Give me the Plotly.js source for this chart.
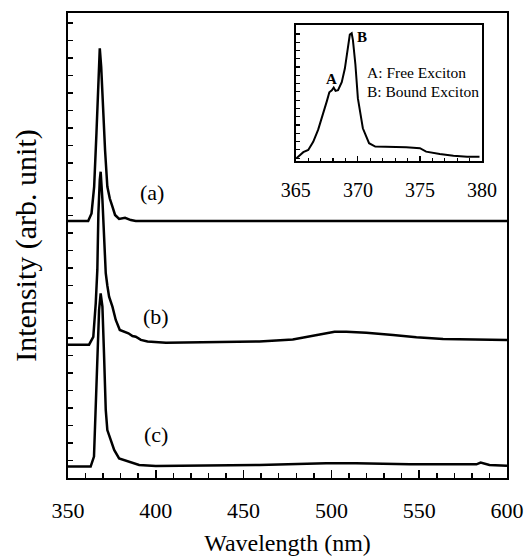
<!DOCTYPE html>
<html>
<head>
<meta charset="utf-8">
<script src="https://cdn.plot.ly/plotly-3.0.1.min.js"></script>
<style>html,body{margin:0;padding:0;background:#fff;}#chart{width:527px;height:558px;}</style>
</head>
<body>
<div id="chart"></div>
<script>
// Spectrum (a)
const xA = [350, 356, 361.5, 363.4, 364.9, 366.2, 367.2, 368.1, 368.9, 370.0, 371.1, 372.4, 373.8, 375.3, 376.8, 379.1, 382.5, 385.8, 388.6, 420, 480, 540, 600];
const yA = [14.69, 14.69, 14.69, 15.12, 16.65, 19.70, 22.55, 24.55, 23.50, 21.03, 18.74, 16.65, 15.97, 15.50, 15.03, 14.80, 14.87, 14.74, 14.69, 14.69, 14.69, 14.70, 14.69];
// Spectrum (b)
const xB = [350, 356, 362.0, 364.4, 365.8, 366.7, 367.3, 368.1, 368.6, 369.6, 370.5, 371.5, 372.4, 373.4, 375.3, 377.2, 379.5, 382.0, 384.4, 386.7, 388.6, 391.5, 395.3, 405.8, 424.8, 447.6, 459, 478, 497.1, 501.8, 508.5, 519.9, 535.1, 548.4, 563.6, 582.6, 600];
const yB = [7.62, 7.62, 7.62, 8.07, 9.98, 11.89, 15.10, 17.03, 17.50, 15.90, 13.60, 11.70, 11.00, 10.36, 9.79, 9.03, 8.46, 8.36, 8.27, 8.11, 8.07, 7.89, 7.80, 7.73, 7.74, 7.77, 7.80, 7.92, 8.27, 8.36, 8.36, 8.30, 8.17, 8.04, 7.94, 7.92, 7.89];
// Spectrum (c)
const xC = [350, 356, 362.9, 364.8, 365.8, 366.7, 367.7, 368.6, 369.6, 370.5, 371.5, 372.4, 374.4, 376.3, 379.1, 382.0, 385.8, 390.5, 400, 443.6, 459, 497, 514, 544.7, 582.6, 585, 590, 600];
const yC = [0.65, 0.65, 0.65, 1.22, 4.27, 7.50, 9.60, 10.55, 9.79, 7.12, 3.89, 2.74, 2.17, 1.60, 1.12, 1.03, 0.88, 0.74, 0.69, 0.74, 0.74, 0.84, 0.84, 0.78, 0.78, 0.88, 0.74, 0.70];
// Inset: zoom of the band edge emission
const xIn = [365.05, 365.6, 366.0, 366.4, 366.8, 367.2, 367.5, 367.7, 367.9, 368.05, 368.2, 368.4, 368.7, 368.95, 369.2, 369.35, 369.5, 369.6, 369.8, 370.0, 370.4, 370.6, 370.9, 371.4, 372.5, 373.9, 375.0, 375.5, 376.6, 377.7, 378.8, 379.8];
const yIn = [0.02, 0.064, 0.08, 0.14, 0.23, 0.34, 0.44, 0.505, 0.52, 0.54, 0.515, 0.52, 0.58, 0.68, 0.83, 0.93, 0.94, 0.89, 0.71, 0.46, 0.24, 0.19, 0.13, 0.105, 0.105, 0.10, 0.093, 0.068, 0.05, 0.037, 0.03, 0.03];

const seriesLabels = ['(a)', '(b)', '(c)'];
const seriesLabelPos = [[398, 16.29], [400, 9.2], [400, 2.46]];
const insetMarks = [['A', 367.9, 0.60], ['B', 370.3, 0.91]];
const insetLegend = [['A: Free Exciton', 370.6, 0.654], ['B: Bound Exciton', 370.6, 0.51]];

const serif = 'Liberation Serif';
const line = {color: '#000', width: 2.5};

const traces = [
  {x: xA, y: yA, mode: 'lines', line: line, xaxis: 'x', yaxis: 'y', showlegend: false, hoverinfo: 'skip'},
  {x: xB, y: yB, mode: 'lines', line: line, xaxis: 'x', yaxis: 'y', showlegend: false, hoverinfo: 'skip'},
  {x: xC, y: yC, mode: 'lines', line: line, xaxis: 'x', yaxis: 'y', showlegend: false, hoverinfo: 'skip'},
  {x: xIn, y: yIn, mode: 'lines', line: {color: '#000', width: 2}, xaxis: 'x2', yaxis: 'y2', showlegend: false, hoverinfo: 'skip'}
];

const annotations = [];
seriesLabels.forEach((t, i) => annotations.push({
  text: t, x: seriesLabelPos[i][0], y: seriesLabelPos[i][1], xref: 'x', yref: 'y',
  showarrow: false, font: {family: serif, size: 22, color: '#000'}
}));
insetMarks.forEach(m => annotations.push({
  text: '<b>' + m[0] + '</b>', x: m[1], y: m[2], xref: 'x2', yref: 'y2',
  showarrow: false, font: {family: serif, size: 15, color: '#000'}
}));
insetLegend.forEach(m => annotations.push({
  text: m[0], x: m[1], y: m[2], xref: 'x2', yref: 'y2', xanchor: 'left',
  showarrow: false, font: {family: serif, size: 15.5, color: '#000'}
}));

const layout = {
  width: 527, height: 558,
  margin: {l: 68, r: 20, t: 13, b: 80},
  paper_bgcolor: '#fff', plot_bgcolor: '#fff',
  showlegend: false,
  font: {family: serif, color: '#000'},
  xaxis: {
    domain: [0, 1], range: [350, 600], tick0: 350, dtick: 50,
    ticks: 'inside', ticklen: 8, tickwidth: 1.5, tickcolor: '#000',
    minor: {dtick: 10, ticks: 'inside', ticklen: 5, tickwidth: 1.5, tickcolor: '#000', showgrid: false},
    showline: true, linewidth: 2, linecolor: '#000', mirror: true,
    showgrid: false, zeroline: false,
    tickfont: {family: serif, size: 22, color: '#000'},
    ticklabelstandoff: 12,
    title: {text: 'Wavelength (nm)', font: {family: serif, size: 24, color: '#000'}, standoff: 12}
  },
  yaxis: {
    domain: [0, 1], range: [0, 26.57], tick0: 0, dtick: 1,
    ticks: 'inside', ticklen: 5, tickwidth: 1.5, tickcolor: '#000',
    showticklabels: false,
    showline: true, linewidth: 2, linecolor: '#000', mirror: true,
    showgrid: false, zeroline: false,
    title: {text: 'Intensity (arb. unit)', font: {family: serif, size: 30, color: '#000'}, standoff: 21}
  },
  xaxis2: {
    domain: [0.519, 0.943], anchor: 'y2', range: [365, 380], tick0: 365, dtick: 5,
    ticks: 'inside', ticklen: 5, tickwidth: 1.2, tickcolor: '#000',
    minor: {dtick: 1, ticks: 'inside', ticklen: 3, tickwidth: 1.2, tickcolor: '#000', showgrid: false},
    showline: true, linewidth: 2, linecolor: '#000', mirror: true,
    showgrid: false, zeroline: false,
    tickfont: {family: serif, size: 20, color: '#000'},
    ticklabelstandoff: 10
  },
  yaxis2: {
    domain: [0.682, 0.974], anchor: 'x2', range: [0, 1], tick0: 0.02, dtick: 0.061,
    ticks: 'inside', ticklen: 4, tickwidth: 1.2, tickcolor: '#000',
    showticklabels: false,
    showline: true, linewidth: 2, linecolor: '#000', mirror: true,
    showgrid: false, zeroline: false
  },
  annotations: annotations
};

Plotly.newPlot('chart', traces, layout, {staticPlot: true, displayModeBar: false});
</script>
</body>
</html>
